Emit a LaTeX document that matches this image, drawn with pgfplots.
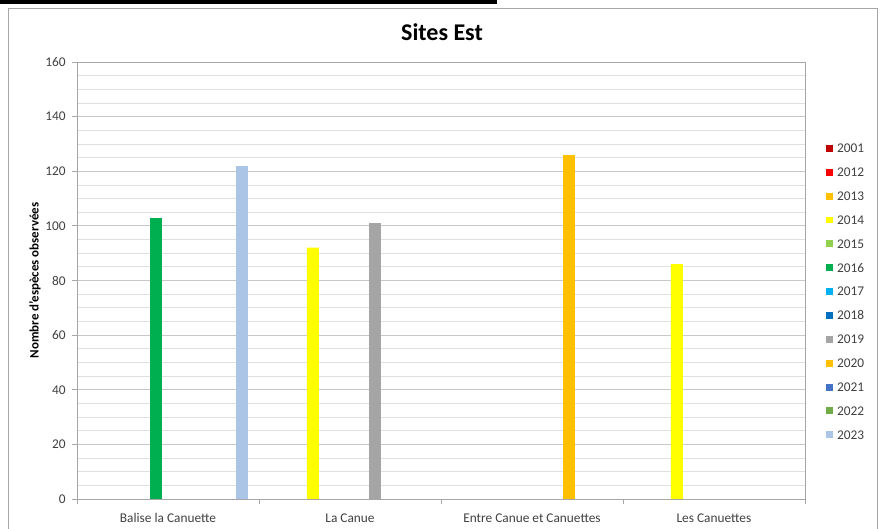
\documentclass[border=0pt]{standalone}
\usepackage{pgfplots}
\pgfplotsset{compat=1.18}
\usepackage{fontspec}
\setmainfont{Carlito}
\definecolor{c2001}{HTML}{C00000}
\definecolor{c2012}{HTML}{FF0000}
\definecolor{c2013}{HTML}{FFC000}
\definecolor{c2014}{HTML}{FFFF00}
\definecolor{c2015}{HTML}{92D050}
\definecolor{c2016}{HTML}{00B050}
\definecolor{c2017}{HTML}{00B0F0}
\definecolor{c2018}{HTML}{0070C0}
\definecolor{c2019}{HTML}{A5A5A5}
\definecolor{c2020}{HTML}{FFC000}
\definecolor{c2021}{HTML}{4472C4}
\definecolor{c2022}{HTML}{70AD47}
\definecolor{c2023}{HTML}{ABC5E6}
\definecolor{axgray}{HTML}{A6A6A6}
\definecolor{majgrid}{HTML}{C8C8C8}
\definecolor{mingrid}{HTML}{E0E0E0}
\definecolor{txt}{HTML}{404040}
\begin{document}
\begin{tikzpicture}
\useasboundingbox (0pt,0pt) rectangle (662.25pt,396.75pt);
\fill[white] (0pt,0pt) rectangle (662.25pt,396.75pt);
\fill[black] (0pt,394.1pt) rectangle (372.75pt,396.75pt);
\draw[axgray, line width=0.6pt] (6pt,-5pt) -- (6pt,390.75pt) -- (657.75pt,390.75pt) -- (657.75pt,-5pt);
\node[font=\bfseries\fontsize{18}{21}\selectfont, anchor=center] at (331.5pt,372.75pt) {Sites Est};
\begin{axis}[
  at={(57.75pt,22.5pt)}, anchor=south west,
  width=546pt, height=327.75pt, scale only axis,
  ybar, bar width=0.066, bar shift=0pt,
  xmin=-0.5, xmax=3.5, ymin=0, ymax=160,
  xtick={-0.5,0.5,1.5,2.5,3.5},
  x tick label as interval,
  xticklabels={Balise la Canuette, La Canue, Entre Canue et Canuettes, Les Canuettes},
  ytick={0,20,...,160},
  minor y tick num=3,
  ymajorgrids, yminorgrids,
  major grid style={majgrid, line width=0.6pt},
  minor grid style={mingrid, line width=0.6pt},
  axis line style={axgray, line width=0.7pt},
  tick style={axgray, line width=0.6pt},
  tick align=outside,
  major tick length=3.5pt, minor tick length=0pt,
  xtick pos=bottom, ytick pos=left,
  /pgf/number format/assume math mode=true,
  ticklabel style={font=\fontsize{10}{12}\selectfont, text=txt},
  xticklabel style={yshift=-4pt},
  yticklabel style={xshift=-1.5pt},
  ylabel={Nombre d'espèces observées},
  ylabel style={font=\bfseries\fontsize{9.7}{11.5}\selectfont, at={(axis description cs:-0.0577,0.5)}, anchor=center},
  legend image code/.code={\fill[#1] (0pt,-2.6pt) rectangle (5.2pt,2.6pt);},
  legend cell align=left,
  legend style={at={(axis description cs:1.0288,0.8158)}, anchor=north west, draw=none, fill=none,
    inner sep=0pt, font=\fontsize{10}{12}\selectfont, text=txt,
    row sep=9.4pt, column sep=2pt,
    nodes={inner sep=1pt, text depth=0pt, text height=6.5pt}},
]
\addlegendimage{fill=c2001,draw=none}\addlegendentry{2001}
\addlegendimage{fill=c2012,draw=none}\addlegendentry{2012}
\addlegendimage{fill=c2013,draw=none}\addlegendentry{2013}
\addlegendimage{fill=c2014,draw=none}\addlegendentry{2014}
\addlegendimage{fill=c2015,draw=none}\addlegendentry{2015}
\addlegendimage{fill=c2016,draw=none}\addlegendentry{2016}
\addlegendimage{fill=c2017,draw=none}\addlegendentry{2017}
\addlegendimage{fill=c2018,draw=none}\addlegendentry{2018}
\addlegendimage{fill=c2019,draw=none}\addlegendentry{2019}
\addlegendimage{fill=c2020,draw=none}\addlegendentry{2020}
\addlegendimage{fill=c2021,draw=none}\addlegendentry{2021}
\addlegendimage{fill=c2022,draw=none}\addlegendentry{2022}
\addlegendimage{fill=c2023,draw=none}\addlegendentry{2023}
% 2014 (series index 3)
\addplot[forget plot, fill=c2014, draw=none] coordinates {(0.7961,92) (2.7961,86)};
% 2016 (series index 5)
\addplot[forget plot, fill=c2016, draw=none] coordinates {(-0.0677,103)};
% 2019 (series index 8)
\addplot[forget plot, fill=c2019, draw=none] coordinates {(1.1366,101)};
% 2020 (series index 9)
\addplot[forget plot, fill=c2020, draw=none] coordinates {(2.2047,126)};
% 2023 (series index 12)
\addplot[forget plot, fill=c2023, draw=none] coordinates {(0.4090,122)};
\end{axis}
\end{tikzpicture}
\end{document}
